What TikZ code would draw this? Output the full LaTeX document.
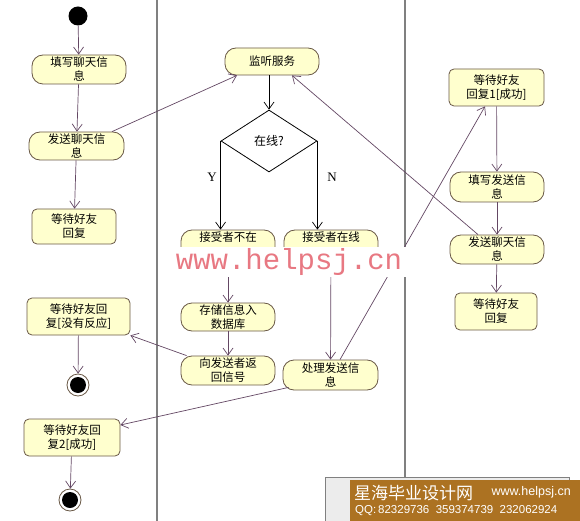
\documentclass[tikz,border=0pt]{standalone}
\usepackage{fontspec}
\setmainfont{Noto Sans CJK SC}
\newfontfamily\serifY{Liberation Serif}
\newfontfamily\monoW{Liberation Mono}
\newfontfamily\sansL{Liberation Sans}
\usetikzlibrary{arrows.meta,shapes.geometric,backgrounds}
\definecolor{fillc}{RGB}{255,255,206}
\definecolor{bord}{RGB}{105,88,70}
\definecolor{arrc}{RGB}{100,72,100}
\definecolor{lanec}{RGB}{128,128,128}
\definecolor{wmred}{RGB}{232,120,130}
\definecolor{banner}{RGB}{172,114,34}
\begin{document}
\begin{tikzpicture}[x=1pt,y=-1pt,
  nfont/.style={font=\fontsize{11.5}{14}\selectfont},
  act/.style={draw=bord,fill=fillc,line width=0.8pt,rounded corners=11pt,minimum width=94pt,minimum height=29pt,align=center,inner sep=0pt,nfont},
  statebox/.style={draw=bord,fill=fillc,line width=0.8pt,rounded corners=5pt,minimum width=94pt,minimum height=37pt,align=center,inner sep=0pt,nfont},
  flow/.style={draw=arrc,line width=0.7pt,-{Straight Barb[length=7pt,width=10pt]}},
  bflow/.style={draw=black,line width=0.7pt,-{Straight Barb[length=7pt,width=10pt]}},
  lane/.style={draw=lanec,line width=1.3pt}]
\useasboundingbox (0,0) rectangle (580,521);
\fill[white] (0,0) rectangle (580,521);

% lanes
\draw[lane] (157,0) -- (157,521);
\draw[lane] (405,0) -- (405,480);

% left lane
\node[circle,fill=black,minimum size=19pt,inner sep=0pt] (start) at (78,16) {};
\node[act,minimum width=94pt] (fill1) at (79,69.5) {填写聊天信\\息};
\node[act,minimum width=95pt,minimum height=28pt] (send1) at (76.5,146) {发送聊天信\\息};
\node[statebox,minimum width=84pt,minimum height=35pt] (wait1) at (74,226.5) {等待好友\\回复};
\node[statebox,minimum width=103pt] (waitNo) at (78.5,316.5) {等待好友回\\复[没有反应]};
\node[circle,draw=bord,fill=white,line width=0.8pt,minimum size=22pt,inner sep=0pt] (end1) at (78,385) {};
\fill[black] (end1.center) circle (8pt);
\node[statebox,minimum width=96pt] (wait2) at (72,437.5) {等待好友回\\复2[成功]};
\node[circle,draw=bord,fill=white,line width=0.8pt,minimum size=22pt,inner sep=0pt] (end2) at (70,500) {};
\fill[black] (end2.center) circle (8pt);

% middle lane
\node[act,minimum height=27pt] (listen) at (272,61.5) {监听服务};
\node[diamond,draw=black,fill=white,line width=0.8pt,minimum width=96pt,minimum height=62pt,inner sep=0pt,font=\fontsize{12}{14}\selectfont] (online) at (269,141) {在线?\\[6pt]};
\node[act,minimum height=28pt] (notin) at (228,244) {接受者不在\\~};
\node[act,minimum height=28pt] (isin) at (331,244) {接受者在线\\~};
\node[act,minimum height=28pt] (store) at (228,317) {存储信息入\\数据库};
\node[act] (ret) at (228,370.5) {向发送者返\\回信号};
\node[act,minimum width=95pt,minimum height=30pt] (proc) at (330.5,375) {处理发送信\\息};
\node[font=\serifY\fontsize{13}{13}\selectfont] (ylab) at (212,177) {Y};
\node[font=\serifY\fontsize{13}{13}\selectfont] (nlab) at (332,177) {N};

% right lane
\node[statebox,minimum width=95pt] (wait3) at (496.5,87.5) {等待好友\\回复1[成功]};
\node[act,minimum height=30pt] (fill2) at (497,187) {填写发送信\\息};
\node[act] (send2) at (497,249.5) {发送聊天信\\息};
\node[statebox,minimum width=82pt] (wait4) at (496,311.5) {等待好友\\回复};

% connectors
\draw[flow] (start) -- (fill1);
\draw[flow] (fill1) -- (send1);
\draw[flow] (send1) -- (wait1);
\draw[flow] ([xshift=35.5pt]send1.north) -- ([xshift=-35pt]listen.south);
\draw[flow] ([xshift=-19pt]send2.north) -- ([xshift=20pt]listen.south);
\draw[bflow] (listen.south -| online.north) -- (online.north);
\draw[bflow] (online.west) -- (online.west |- notin.north);
\draw[bflow] (online.east) -- (online.east |- isin.north);
\draw[flow] (notin) -- (store);
\draw[flow] (isin) -- (proc);
\draw[flow] (store) -- (ret);
\draw[flow] ([xshift=6pt]ret.north west) -- (waitNo.south east);
\draw[flow] (waitNo) -- (end1);
\draw[flow] ([xshift=6pt,yshift=3pt]proc.south west) -- ([yshift=12.5pt]wait2.east);
\draw[flow] (wait2) -- (end2);
\draw[flow] ([xshift=9.5pt]proc.north) -- ([xshift=-11.5pt]wait3.south);
\draw[flow] (wait3) -- (fill2);
\draw[flow] (fill2) -- (send2);
\draw[flow] (send2) -- (wait4);

% watermark band
\fill[white] (170,247) rectangle (411,277);
\node[text=wmred,font=\monoW\fontsize{29}{29}\selectfont,inner sep=0pt,anchor=center] (wm) at (289,262) {www.helpsj.cn};

% banner
\draw[draw=lanec,fill={rgb,255:red,236;green,236;blue,236}] (325,477) rectangle (569,530);
\fill[banner] (350,480) rectangle (580,521);
\node[text=white,font=\fontsize{17}{17}\selectfont,inner sep=0pt,anchor=west] (bt1) at (354,493) {星海毕业设计网};
\node[text=white,font=\sansL\fontsize{12.5}{12.5}\selectfont,inner sep=0pt,anchor=east] (bt2) at (571,492) {www.helpsj.cn};
\node[text=white,font=\sansL\fontsize{11.5}{11.5}\selectfont,inner sep=0pt,anchor=west] (bt3) at (355,511) {QQ:\,82329736\ \ 359374739\ \ 232062924};
\end{tikzpicture}
\end{document}
